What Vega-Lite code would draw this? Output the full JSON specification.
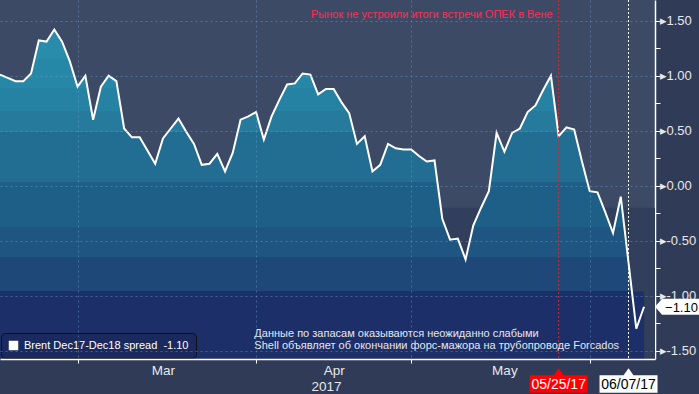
{
  "$schema": "https://vega.github.io/schema/vega-lite/v6.json",
  "width": 655,
  "height": 359,
  "autosize": {"type": "none"},
  "padding": {"left": 0, "top": 0, "right": 44, "bottom": 35},
  "background": "#2f3b57",
  "config": {"view": {"fill": "#3c4a66", "stroke": null}, "font": "Liberation Sans"},
  "datasets": {
    "series": [
      {"date": "2017-02-14", "value": 1.01}, {"date": "2017-02-15", "value": 0.98}, {"date": "2017-02-16", "value": 0.95},
      {"date": "2017-02-17", "value": 0.95}, {"date": "2017-02-20", "value": 1.02}, {"date": "2017-02-21", "value": 1.32},
      {"date": "2017-02-22", "value": 1.31}, {"date": "2017-02-23", "value": 1.42}, {"date": "2017-02-24", "value": 1.31},
      {"date": "2017-02-27", "value": 1.13}, {"date": "2017-02-28", "value": 0.90}, {"date": "2017-03-01", "value": 1.00},
      {"date": "2017-03-02", "value": 0.60}, {"date": "2017-03-03", "value": 0.90}, {"date": "2017-03-06", "value": 1.00},
      {"date": "2017-03-07", "value": 0.95}, {"date": "2017-03-08", "value": 0.52}, {"date": "2017-03-09", "value": 0.44},
      {"date": "2017-03-10", "value": 0.44}, {"date": "2017-03-13", "value": 0.32}, {"date": "2017-03-14", "value": 0.20},
      {"date": "2017-03-15", "value": 0.43}, {"date": "2017-03-16", "value": 0.52}, {"date": "2017-03-17", "value": 0.61},
      {"date": "2017-03-20", "value": 0.49}, {"date": "2017-03-21", "value": 0.38}, {"date": "2017-03-22", "value": 0.19},
      {"date": "2017-03-23", "value": 0.20}, {"date": "2017-03-24", "value": 0.29}, {"date": "2017-03-27", "value": 0.13},
      {"date": "2017-03-28", "value": 0.30}, {"date": "2017-03-29", "value": 0.60}, {"date": "2017-03-30", "value": 0.63},
      {"date": "2017-03-31", "value": 0.67}, {"date": "2017-04-03", "value": 0.42}, {"date": "2017-04-04", "value": 0.63},
      {"date": "2017-04-05", "value": 0.78}, {"date": "2017-04-06", "value": 0.92}, {"date": "2017-04-07", "value": 0.93},
      {"date": "2017-04-10", "value": 1.02}, {"date": "2017-04-11", "value": 1.01}, {"date": "2017-04-12", "value": 0.83},
      {"date": "2017-04-13", "value": 0.88}, {"date": "2017-04-14", "value": 0.88}, {"date": "2017-04-17", "value": 0.76},
      {"date": "2017-04-18", "value": 0.66}, {"date": "2017-04-19", "value": 0.38}, {"date": "2017-04-20", "value": 0.45},
      {"date": "2017-04-21", "value": 0.13}, {"date": "2017-04-24", "value": 0.19}, {"date": "2017-04-25", "value": 0.38},
      {"date": "2017-04-26", "value": 0.34}, {"date": "2017-04-27", "value": 0.33}, {"date": "2017-04-28", "value": 0.33},
      {"date": "2017-05-01", "value": 0.27}, {"date": "2017-05-02", "value": 0.22}, {"date": "2017-05-03", "value": 0.23},
      {"date": "2017-05-04", "value": -0.30}, {"date": "2017-05-05", "value": -0.49}, {"date": "2017-05-08", "value": -0.48},
      {"date": "2017-05-09", "value": -0.67}, {"date": "2017-05-10", "value": -0.36}, {"date": "2017-05-11", "value": -0.20},
      {"date": "2017-05-12", "value": -0.05}, {"date": "2017-05-15", "value": 0.48}, {"date": "2017-05-16", "value": 0.31},
      {"date": "2017-05-17", "value": 0.48}, {"date": "2017-05-18", "value": 0.52}, {"date": "2017-05-19", "value": 0.67},
      {"date": "2017-05-22", "value": 0.73}, {"date": "2017-05-23", "value": 0.87}, {"date": "2017-05-24", "value": 1.00},
      {"date": "2017-05-25", "value": 0.45}, {"date": "2017-05-26", "value": 0.53}, {"date": "2017-05-29", "value": 0.51},
      {"date": "2017-05-30", "value": 0.22}, {"date": "2017-05-31", "value": -0.05}, {"date": "2017-06-01", "value": -0.06},
      {"date": "2017-06-02", "value": -0.24}, {"date": "2017-06-05", "value": -0.43}, {"date": "2017-06-06", "value": -0.10},
      {"date": "2017-06-07", "value": -0.70}, {"date": "2017-06-08", "value": -1.30}, {"date": "2017-06-09", "value": -1.10}
    ],
    "events": [
      {"date": "2017-05-25", "label": "05/25/17"},
      {"date": "2017-06-07", "label": "06/07/17"}
    ],
    "notes": [
      {"date": "2017-05-25", "line": 0, "note": "Рынок не устроили итоги встречи ОПЕК в Вене"},
      {"date": "2017-03-31", "line": 1, "note": "Данные по запасам оказываются неожиданно слабыми"},
      {"date": "2017-03-31", "line": 2, "note": "Shell объявляет об окончании форс-мажора на трубопроводе Forcados"}
    ]
  },
  "resolve": {"axis": {"y": "independent"}},
  "layer": [
    {
      "data": {"values": [{"zone": "below -0.20"}]},
      "mark": {"type": "rect", "color": "#323f5c"},
      "encoding": {
        "y": {"datum": -0.2, "type": "quantitative", "scale": {"domain": [-1.575, 1.688], "nice": false, "zero": false}, "axis": null},
        "y2": {"datum": -1.575}
      }
    },
    {
      "data": {"name": "series"},
      "mark": {"type": "area", "color": "#1c2f68"},
      "encoding": {
        "x": {
          "field": "date", "type": "ordinal",
          "scale": {"type": "point", "padding": 0.706, "align": 0},
          "axis": {
            "orient": "bottom", "title": null, "zindex": 1,
            "values": ["2017-02-28", "2017-03-15", "2017-03-31", "2017-04-13", "2017-04-14", "2017-04-28", "2017-05-16", "2017-05-31"],
            "labels": true, "ticks": true, "domain": true,
            "labelExpr": "datum.value == '2017-03-15' ? 'Mar' : datum.value == '2017-04-14' ? 'Apr' : datum.value == '2017-04-13' ? ['', '2017'] : datum.value == '2017-05-16' ? 'May' : ''",
            "labelAngle": 0, "labelOverlap": false, "labelBound": false, "labelFlush": false,
            "labelFont": "Liberation Sans", "labelFontSize": 13.5, "labelColor": "#e8e8e8",
            "labelPadding": 0, "labelLineHeight": 16,
            "tickSize": 4, "tickColor": "#ffffff", "tickWidth": 1,
            "tickOpacity": {"condition": {"test": "indexof(['2017-02-28','2017-03-31','2017-04-28','2017-05-31'], datum.value) >= 0", "value": 1}, "value": 0},
            "grid": true, "gridColor": "#6aa3cc", "gridDash": [2, 3], "gridWidth": 1,
            "gridOpacity": {"condition": {"test": "indexof(['2017-02-28','2017-03-31','2017-04-28','2017-05-31'], datum.value) >= 0", "value": 0.45}, "value": 0},
            "domainColor": "#ffffff", "domainWidth": 1.5
          }
        },
        "y": {"datum": -0.96, "type": "quantitative", "scale": {"domain": [-1.575, 1.688], "nice": false, "zero": false}, "axis": null},
        "y2": {"datum": -1.575}
      }
    },
    {
      "data": {"name": "series"},
      "mark": {
        "type": "area",
        "fill": {
          "gradient": "linear", "x1": 0, "y1": 0, "x2": 0, "y2": 1,
          "stops": [
            {"offset": 0, "color": "#2a8cab"}, {"offset": 0.0895, "color": "#2a8cab"},
            {"offset": 0.0895, "color": "#2787a6"}, {"offset": 0.1775, "color": "#2787a6"},
            {"offset": 0.1775, "color": "#2682a2"}, {"offset": 0.2473, "color": "#2682a2"},
            {"offset": 0.2473, "color": "#267b9c"}, {"offset": 0.3111, "color": "#267b9c"},
            {"offset": 0.3111, "color": "#216e92"}, {"offset": 0.4628, "color": "#216e92"},
            {"offset": 0.4628, "color": "#1e5f87"}, {"offset": 0.5994, "color": "#1e5f87"},
            {"offset": 0.5994, "color": "#1e5581"}, {"offset": 0.6904, "color": "#1e5581"},
            {"offset": 0.6904, "color": "#1d4877"}, {"offset": 0.7936, "color": "#1d4877"},
            {"offset": 0.7936, "color": "#1c2f68"}, {"offset": 1, "color": "#1c2f68"}
          ]
        }
      },
      "encoding": {
        "x": {"field": "date", "type": "ordinal"},
        "y": {
          "field": "value", "type": "quantitative",
          "scale": {"domain": [-1.575, 1.688], "nice": false, "zero": false},
          "axis": {
            "orient": "left", "title": null, "zindex": 1,
            "values": [-1.5, -1, -0.5, 0, 0.5, 1, 1.5],
            "grid": true, "gridColor": "#6aa3cc", "gridOpacity": 0.45, "gridDash": [2, 3], "gridWidth": 1,
            "labels": false, "ticks": false, "domain": false
          }
        },
        "y2": {"datum": -1.575}
      }
    },
    {
      "data": {"name": "series"},
      "mark": {"type": "line", "strokeWidth": 2},
      "encoding": {
        "x": {"field": "date", "type": "ordinal"},
        "y": {
          "field": "value", "type": "quantitative",
          "scale": {"domain": [-1.575, 1.688], "nice": false, "zero": false},
          "axis": {
            "orient": "right", "title": null, "grid": false,
            "values": [-1.5, -1.25, -1, -0.75, -0.5, -0.25, 0, 0.25, 0.5, 0.75, 1, 1.25, 1.5],
            "labelExpr": "datum.value * 2 == round(datum.value * 2) ? '▸' + (datum.value < 0 ? '-' : '') + format(abs(datum.value), '.2f') : ''",
            "labelFont": "Liberation Sans", "labelFontSize": 13, "labelColor": "#e8e8e8",
            "labelPadding": -1, "labelFlush": false, "labelOverlap": false, "labelBound": false,
            "tickSize": 5, "tickColor": "#ffffff", "tickWidth": 1,
            "domainColor": "#ffffff", "domainWidth": 1.5
          }
        },
        "color": {
          "datum": "Brent Dec17-Dec18 spread\u00a0 -1.10", "type": "nominal",
          "scale": {"range": ["#ffffff"]},
          "legend": {
            "orient": "bottom-left", "offset": 1, "title": null,
            "fillColor": "#1b2a5e", "strokeColor": "#0c0e18", "cornerRadius": 4, "padding": 7,
            "symbolType": "square", "symbolSize": 90, "symbolFillColor": "#ffffff", "symbolStrokeWidth": 0,
            "labelColor": "#ffffff", "labelFont": "Liberation Sans", "labelFontSize": 11, "labelOffset": 5, "labelLimit": 0,
            "encode": {"symbols": {"update": {"fill": {"value": "#ffffff"}, "stroke": {"value": "#ffffff"}, "shape": {"value": "square"}}}}
          }
        }
      }
    },
    {
      "data": {"name": "events"},
      "mark": {"type": "rule", "strokeDash": [2, 2], "strokeWidth": 1},
      "encoding": {
        "x": {"field": "date", "type": "ordinal"},
        "stroke": {"condition": {"test": "datum.label == '05/25/17'", "value": "#ff1a1a"}, "value": "#ffffff"}
      }
    },
    {
      "data": {"name": "events"},
      "mark": {"type": "point", "shape": "M-1,-0.305L-0.17,-0.305L0,-0.545L0.17,-0.305L1,-0.305L1,0.305L-1,0.305Z", "size": 3364, "filled": true, "opacity": 1, "strokeWidth": 0},
      "encoding": {
        "x": {"field": "date", "type": "ordinal"},
        "y": {"datum": -1.802, "type": "quantitative", "scale": {"domain": [-1.575, 1.688], "nice": false, "zero": false}, "axis": null},
        "fill": {"condition": {"test": "datum.label == '05/25/17'", "value": "#ff0000"}, "value": "#ffffff"}
      }
    },
    {
      "data": {"name": "events"},
      "mark": {"type": "text", "font": "Liberation Sans", "fontSize": 14, "align": "center", "baseline": "middle", "dy": 1},
      "encoding": {
        "x": {"field": "date", "type": "ordinal"},
        "y": {"datum": -1.802, "type": "quantitative", "scale": {"domain": [-1.575, 1.688], "nice": false, "zero": false}, "axis": null},
        "text": {"field": "label"},
        "fill": {"condition": {"test": "datum.label == '05/25/17'", "value": "#ffffff"}, "value": "#000000"}
      }
    },
    {
      "data": {"name": "series"},
      "transform": [{"filter": "datum.date == '2017-06-09'"}],
      "mark": {"type": "point", "shape": "M0.44,0L0.72,-0.32L2.6,-0.32L2.6,0.32L0.72,0.32Z", "size": 2500, "filled": true, "opacity": 1, "color": "#ffffff", "strokeWidth": 0},
      "encoding": {
        "x": {"field": "date", "type": "ordinal"},
        "y": {"field": "value", "type": "quantitative", "scale": {"domain": [-1.575, 1.688], "nice": false, "zero": false}, "axis": null}
      }
    },
    {
      "data": {"name": "series"},
      "transform": [{"filter": "datum.date == '2017-06-09'"}],
      "mark": {"type": "text", "font": "Liberation Sans", "fontSize": 13, "align": "left", "baseline": "middle", "dx": 21, "dy": 1, "color": "#000000"},
      "encoding": {
        "x": {"field": "date", "type": "ordinal"},
        "y": {"field": "value", "type": "quantitative", "scale": {"domain": [-1.575, 1.688], "nice": false, "zero": false}, "axis": null},
        "text": {"field": "value", "type": "quantitative", "format": ".2f"}
      }
    },
    {
      "data": {"name": "notes"},
      "transform": [{"filter": "datum.line == 0"}],
      "mark": {"type": "text", "font": "Liberation Sans", "fontSize": 11, "align": "right", "baseline": "alphabetic", "dx": -6, "color": "#ff2d55"},
      "encoding": {
        "x": {"field": "date", "type": "ordinal"},
        "y": {"datum": 1.52, "type": "quantitative", "scale": {"domain": [-1.575, 1.688], "nice": false, "zero": false}, "axis": null},
        "text": {"field": "note"}
      }
    },
    {
      "data": {"name": "notes"},
      "transform": [{"filter": "datum.line == 1"}],
      "mark": {"type": "text", "font": "Liberation Sans", "fontSize": 11, "align": "left", "baseline": "alphabetic", "dx": -1.7, "color": "#e6e6ee"},
      "encoding": {
        "x": {"field": "date", "type": "ordinal"},
        "y": {"datum": -1.372, "type": "quantitative", "scale": {"domain": [-1.575, 1.688], "nice": false, "zero": false}, "axis": null},
        "text": {"field": "note"}
      }
    },
    {
      "data": {"name": "notes"},
      "transform": [{"filter": "datum.line == 2"}],
      "mark": {"type": "text", "font": "Liberation Sans", "fontSize": 11, "align": "left", "baseline": "alphabetic", "dx": -1.7, "color": "#e6e6ee"},
      "encoding": {
        "x": {"field": "date", "type": "ordinal"},
        "y": {"datum": -1.484, "type": "quantitative", "scale": {"domain": [-1.575, 1.688], "nice": false, "zero": false}, "axis": null},
        "text": {"field": "note"}
      }
    }
  ]
}
